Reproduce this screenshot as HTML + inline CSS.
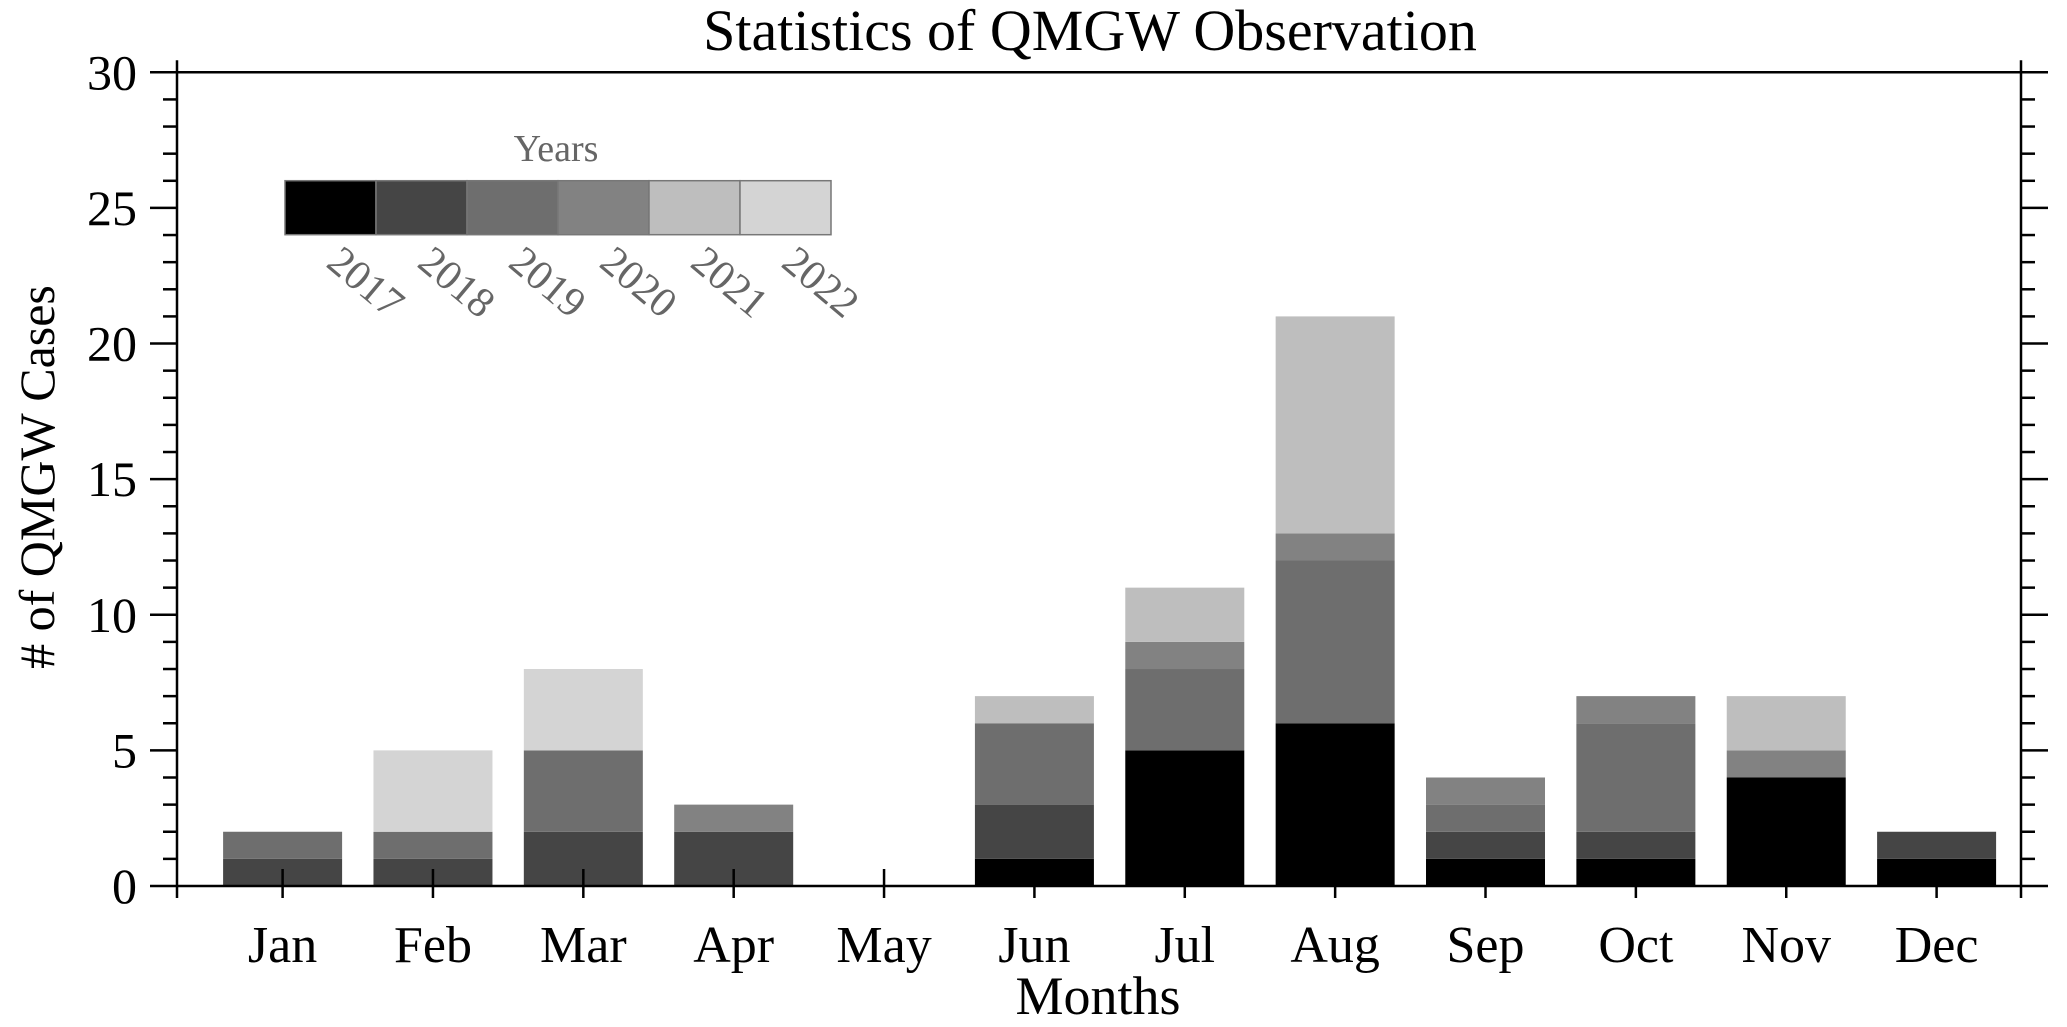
<!DOCTYPE html>
<html><head><meta charset="utf-8"><style>
html,body{margin:0;padding:0;background:#fff;}
svg{display:block;font-family:"Liberation Serif",serif;}
</style></head><body>
<svg id="chart" width="2067" height="1027" viewBox="0 0 2067 1027" xmlns="http://www.w3.org/2000/svg">
<text x="1090" y="50" font-size="58" text-anchor="middle" fill="#000">Statistics of QMGW Observation</text>
<text transform="translate(54,477) rotate(-90)" font-size="50" text-anchor="middle" fill="#000">#  of QMGW Cases</text>
<text x="1098" y="1014" font-size="54" text-anchor="middle" fill="#000">Months</text>
<g id="bars"></g>
<g id="axes"></g>
<g id="legend"></g>
</svg>
<script>
const months = ["Jan","Feb","Mar","Apr","May","Jun","Jul","Aug","Sep","Oct","Nov","Dec"];
const years = ["2017","2018","2019","2020","2021","2022"];
const colors = ["#000000","#454545","#6e6e6e","#828282","#bebebe","#d4d4d4"];
const s2017 = [0,0,0,0,0,1,5,6,1,1,4,1];
const s2018 = [1,1,2,2,0,2,0,0,1,1,0,1];
const s2019 = [1,1,3,0,0,3,3,6,1,4,0,0];
const s2020 = [0,0,0,1,0,0,1,1,1,1,1,0];
const s2021 = [0,0,0,0,0,1,2,8,0,0,2,0];
const s2022 = [0,3,3,0,0,0,0,0,0,0,0,0];
const yTicks = [0,5,10,15,20,25,30];
const series = [s2017,s2018,s2019,s2020,s2021,s2022];

const NS = "http://www.w3.org/2000/svg";
const L = 177, R = 2021, T = 72.3, B = 886;
const yMax = 30;
const y = v => B - (B - T) * v / yMax;
const step = (1936.6 - 282.6) / 11;
const x = i => 282.6 + i * step;
const bw = 119;
function mk(tag, attrs, parent){const e=document.createElementNS(NS,tag);for(const k in attrs)e.setAttribute(k,attrs[k]);parent.appendChild(e);return e;}

const bars = document.getElementById("bars");
months.forEach((m,i)=>{
  let acc = 0;
  series.forEach((s,k)=>{
    if(s[i] > 0){
      const r = mk("rect",{x:x(i)-bw/2,y:y(acc+s[i]),width:bw,height:y(acc)-y(acc+s[i]),fill:colors[k]},bars);
      
      
      acc += s[i];
    }
  });
});

const axes = document.getElementById("axes");
const st = {stroke:"#000","stroke-width":2.5};
mk("line",Object.assign({x1:L,y1:B,x2:R,y2:B},st),axes);
mk("line",Object.assign({x1:L,y1:T,x2:R,y2:T},st),axes);
mk("line",Object.assign({x1:L,y1:T-12,x2:L,y2:B+12},st),axes);
mk("line",Object.assign({x1:R,y1:T-12,x2:R,y2:B+12},st),axes);
for(let v=0; v<=yMax; v++){
  const major = v % 5 === 0;
  const len = major ? 27 : 14;
  mk("line",Object.assign({x1:L-len,y1:y(v),x2:L,y2:y(v)},st),axes);
  mk("line",Object.assign({x1:R,y1:y(v),x2:R+len,y2:y(v)},st),axes);
}
yTicks.forEach(v=>{
  const t = mk("text",{x:137,y:y(v)+17,"font-size":50,"text-anchor":"end",fill:"#000"},axes);
  t.textContent = v;
  
  
});
months.forEach((m,i)=>{
  mk("line",Object.assign({x1:x(i),y1:B-17,x2:x(i),y2:B+12},st),axes);
  const t = mk("text",{x:x(i),y:962,"font-size":52,"text-anchor":"middle",fill:"#000"},axes);
  t.textContent = m;
  
  
});

const lg = document.getElementById("legend");


const lx = 285, ly = 180.7, lw = 91, lh = 54;
const yt = mk("text",{x:556,y:161,"font-size":38,"text-anchor":"middle",fill:"#666"},lg);
yt.textContent = "Years";


years.forEach((yr,k)=>{
  const r = mk("rect",{x:lx+k*lw,y:ly,width:lw,height:lh,fill:colors[k],stroke:"#777","stroke-width":1.5},lg);
  
  
  const tx = lx + (k+1)*lw - 32, ty = ly + lh + 8;
  const t = mk("text",{x:0,y:0,"font-size":42,fill:"#666",transform:`translate(${tx},${ty}) rotate(40) translate(0,30)`},lg);
  t.textContent = yr;
  
  
});
</script>
</body></html>
